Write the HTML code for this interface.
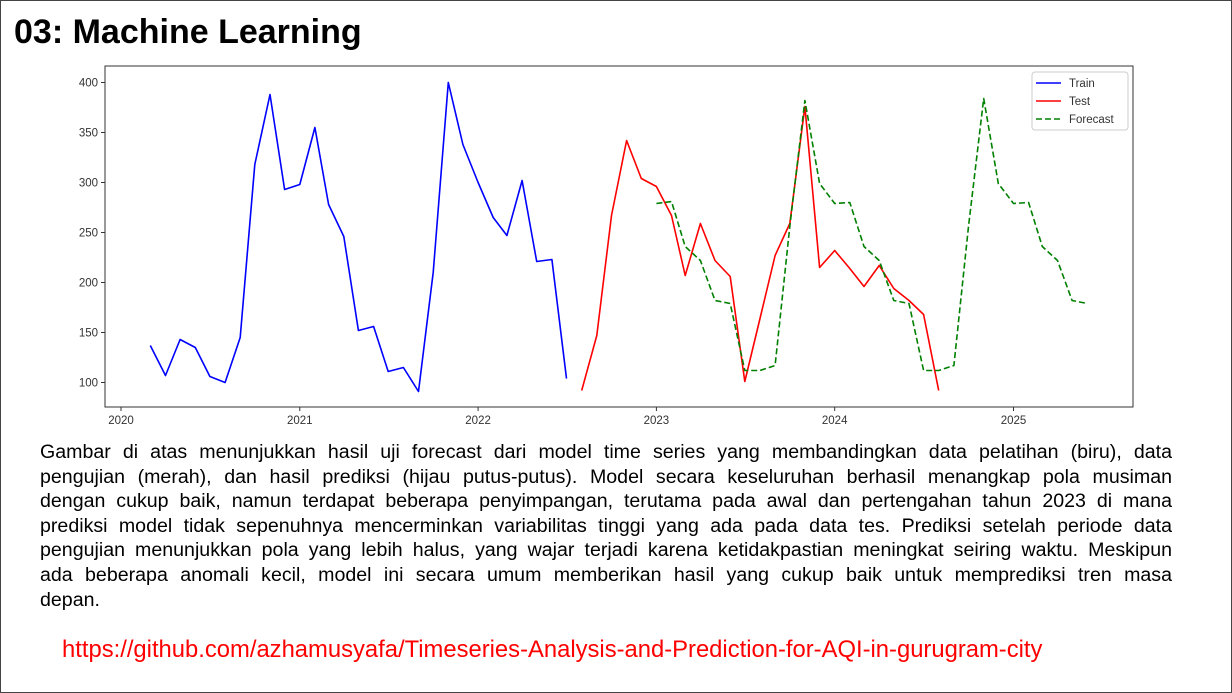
<!DOCTYPE html>
<html><head><meta charset="utf-8">
<style>
html,body{margin:0;padding:0;background:#fff;}
body{width:1232px;height:693px;position:relative;overflow:hidden;font-family:"Liberation Sans",Arial,sans-serif;}
#frame{position:absolute;left:0;top:0;width:1230px;height:691px;border:1px solid #444;}
#title{position:absolute;left:14px;top:13px;font-size:34px;font-weight:bold;color:#000;}
#chart{position:absolute;left:0;top:0;}
#para{position:absolute;left:40px;top:440px;width:1132px;font-size:19.6px;line-height:24.6px;color:#000;}
#para .ln{text-align:justify;text-align-last:justify;white-space:nowrap;}
#para .last{text-align-last:left;}
#link{position:absolute;left:62px;top:636px;font-size:23.8px;color:#f00;white-space:nowrap;}
</style></head><body>
<div id="frame"></div>
<div id="title">03: Machine Learning</div>
<svg id="chart" width="1232" height="693"></svg>
<div id="para">
<div class="ln">Gambar di atas menunjukkan hasil uji forecast dari model time series yang membandingkan data pelatihan (biru), data</div>
<div class="ln">pengujian (merah), dan hasil prediksi (hijau putus-putus). Model secara keseluruhan berhasil menangkap pola musiman</div>
<div class="ln">dengan cukup baik, namun terdapat beberapa penyimpangan, terutama pada awal dan pertengahan tahun 2023 di mana</div>
<div class="ln">prediksi model tidak sepenuhnya mencerminkan variabilitas tinggi yang ada pada data tes. Prediksi setelah periode data</div>
<div class="ln">pengujian menunjukkan pola yang lebih halus, yang wajar terjadi karena ketidakpastian meningkat seiring waktu. Meskipun</div>
<div class="ln">ada beberapa anomali kecil, model ini secara umum memberikan hasil yang cukup baik untuk memprediksi tren masa</div>
<div class="ln last">depan.</div>
</div>
<div id="link">https://github.com/azhamusyafa/Timeseries-Analysis-and-Prediction-for-AQI-in-gurugram-city</div>
<script>
const trainStart = [2020, 3];
const trainValues = [137,107,143,135,106,100,145,318,388,293,298,355,278,246,152,156,111,115,91,210,400,338,300,265,247,302,221,223,104];
const testStart = [2022, 8];
const testValues = [92,147,267,342,304,296,267,207,259,222,206,101,164,227,259,376,215,232,214,196,217,194,182,168,92];
const forecastStart = [2023, 1];
const forecastValues = [279,281,236,222,182,179,112,112,117,256,382,299,279,280,236,222,182,179,112,112,117,256,384,299,279,280,236,222,182,179];
const yTicks = [100,150,200,250,300,350,400];
const xTickYears = [2020,2021,2022,2023,2024,2025];

const NS = "http://www.w3.org/2000/svg";
const svg = document.getElementById('chart');
const PL=105, PR=1133, PT=66, PB=407;
const base = Date.UTC(2020,0,1);
function xScale(y,m){ const d=(Date.UTC(y,m-1,1)-base)/86400000; return 121 + d*0.4885; }
function yScale(v){ return 382.5 - (v-100)*1.0; }
function el(tag, attrs){ const e=document.createElementNS(NS,tag); for(const k in attrs) e.setAttribute(k,attrs[k]); svg.appendChild(e); return e; }

const frame = el('rect',{x:PL,y:PT,width:PR-PL,height:PB-PT,fill:'none',stroke:'#333','stroke-width':1});



yTicks.forEach(t=>{
  const y=yScale(t);
  const tk=el('line',{x1:PL-4,x2:PL,y1:y,y2:y,stroke:'#333'});
  
  
  const tx=el('text',{x:PL-7,y:y+4,'text-anchor':'end','font-size':11.5,fill:'#333','font-family':'Liberation Sans, Arial, sans-serif'});
  tx.textContent=t;
  
  
});
xTickYears.forEach(yr=>{
  const x=xScale(yr,1);
  const tk=el('line',{x1:x,x2:x,y1:PB,y2:PB+4,stroke:'#333'});
  
  
  const tx=el('text',{x:x,y:PB+17,'text-anchor':'middle','font-size':11.5,fill:'#333','font-family':'Liberation Sans, Arial, sans-serif'});
  tx.textContent=yr;
  
  
});

function series(start, vals, color, dash, name){
  const pts = vals.map((v,i)=>{ const m=start[1]-1+i; const yr=start[0]+Math.floor(m/12); return xScale(yr,(m%12)+1).toFixed(1)+','+yScale(v).toFixed(1); }).join(' ');
  const p=el('polyline',{points:pts,fill:'none',stroke:color,'stroke-width':1.6,'stroke-dasharray':dash||'none','stroke-linejoin':'round'});
  
  
}
series(trainStart,trainValues,'#0000ff',null,'train-line');
series(testStart,testValues,'#ff0000',null,'test-line');
series(forecastStart,forecastValues,'#008000','6,3','forecast-line');

const lg=el('rect',{x:1032,y:72,width:96,height:58,rx:3,fill:'#fff',stroke:'#ccc'});


[['Train','#0000ff',null,83],['Test','#ff0000',null,101],['Forecast','#008000','6,3',119]].forEach(([n,c,d,y])=>{
  const l=el('line',{x1:1036,x2:1061,y1:y,y2:y,stroke:c,'stroke-width':1.6,'stroke-dasharray':d||'none'});
  
  
  const t=el('text',{x:1069,y:y+4,'font-size':11.5,fill:'#333','font-family':'Liberation Sans, Arial, sans-serif'});
  t.textContent=n;
  
  
});
</script>
</body></html>
